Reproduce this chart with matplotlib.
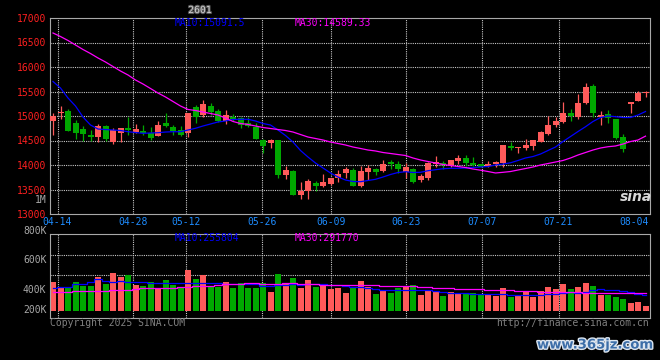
import numpy as np
import matplotlib.pyplot as plt
import matplotlib.patheffects as pe

# daily candles, 04-11 .. 08-05
opens = [14905, 15054, 15102, 14850, 14735, 14612, 14578, 14796, 14476, 14660,
         14748, 14673, 14680, 14646, 14599, 14864, 14782, 14714, 14660, 15190,
         15020, 15204, 15102, 14905, 14986, 14952, 14864, 14782, 14510, 14456,
         14510, 13796, 13877, 13388, 13469, 13639, 13571, 13612, 13728, 13843,
         13898, 13578, 13864, 13911, 13877, 14068, 14013, 13864, 13911, 13694,
         13728, 14020, 14047, 13979, 14081, 14149, 14034, 14020, 13986, 14020,
         14034, 14388, 14340, 14354, 14388, 14476, 14633, 14816, 14884, 15068,
         14986, 15272, 15612, 14986, 15041, 14939, 14578, 15238, 15313, 15469]
highs = [15054, 15204, 15136, 14918, 14796, 14714, 14837, 14816, 14748, 14748,
         14986, 14830, 14816, 14782, 14898, 15068, 14816, 14803, 15054, 15224,
         15326, 15258, 15143, 15122, 15034, 14973, 14973, 14864, 14524, 14524,
         14510, 13979, 13898, 13660, 13707, 13673, 13816, 13741, 13898, 13966,
         13932, 13986, 14000, 13945, 14102, 14102, 14081, 14047, 13932, 13816,
         14068, 14190, 14081, 14102, 14204, 14204, 14170, 14020, 14081, 14075,
         14408, 14476, 14374, 14530, 14510, 14694, 15000, 14986, 15279, 15143,
         15449, 15667, 15653, 15102, 15122, 14939, 14626, 15286, 15510, 15517]
lows = [14612, 14932, 14701, 14524, 14497, 14497, 14476, 14490, 14422, 14476,
        14612, 14646, 14612, 14510, 14599, 14782, 14612, 14599, 14564, 14850,
        14986, 15020, 14884, 14830, 14905, 14762, 14782, 14530, 14252, 14354,
        13741, 13714, 13388, 13306, 13299, 13469, 13544, 13592, 13660, 13741,
        13578, 13558, 13694, 13796, 13850, 13918, 13830, 13728, 13639, 13660,
        13694, 13966, 13918, 13966, 14020, 13986, 13986, 13966, 13966, 13960,
        13966, 14306, 14238, 14306, 14306, 14476, 14612, 14782, 14850, 14905,
        14932, 15245, 14973, 14816, 14864, 14524, 14272, 15068, 15313, 15381]
closes = [14999, 15082, 14701, 14646, 14632, 14578, 14796, 14530, 14714, 14748,
          14714, 14735, 14660, 14558, 14816, 14803, 14694, 14612, 15054, 14986,
          15245, 15075, 14905, 15020, 14932, 14816, 14796, 14530, 14394, 14510,
          13796, 13898, 13388, 13469, 13673, 13571, 13660, 13741, 13816, 13911,
          13578, 13877, 13932, 13864, 14020, 14020, 13918, 13966, 13660, 13775,
          14034, 14068, 14000, 14102, 14149, 14034, 14000, 13966, 14000, 14068,
          14408, 14354, 14360, 14408, 14510, 14680, 14816, 14898, 15068, 15000,
          15265, 15599, 15068, 15020, 14966, 14544, 14320, 15286, 15462, 15483]
ma10 = [15704, 15571, 15367, 15204, 14979, 14816, 14734, 14724, 14714, 14704,
        14679, 14663, 14647, 14653, 14659, 14673, 14679, 14679, 14714, 14749,
        14796, 14837, 14878, 14898, 14929, 14933, 14933, 14898, 14847, 14816,
        14714, 14602, 14469, 14296, 14163, 14041, 13939, 13837, 13755, 13694,
        13663, 13659, 13684, 13708, 13755, 13806, 13847, 13863, 13847, 13851,
        13883, 13904, 13924, 13933, 13933, 13939, 13949, 13959, 13969, 14000,
        14020, 14045, 14092, 14143, 14173, 14224, 14296, 14367, 14479, 14581,
        14683, 14781, 14888, 14969, 15000, 14986, 14969, 14969, 15020, 15091.5]
ma30 = [16694, 16622, 16541, 16449, 16357, 16275, 16184, 16102, 16010, 15918,
        15837, 15735, 15653, 15561, 15469, 15388, 15296, 15204, 15133, 15112,
        15081, 15051, 15020, 14959, 14888, 14847, 14827, 14796, 14765, 14745,
        14724, 14704, 14673, 14622, 14571, 14541, 14510, 14469, 14439, 14408,
        14367, 14337, 14306, 14286, 14255, 14235, 14214, 14194, 14143, 14102,
        14071, 14041, 14010, 13990, 13969, 13949, 13918, 13894, 13867, 13837,
        13851, 13867, 13898, 13928, 13959, 14000, 14030, 14061, 14092, 14143,
        14204, 14255, 14306, 14347, 14373, 14388, 14428, 14479, 14510, 14589.33]
# volume in thousands
volumes = [472, 392, 392, 472, 408, 402, 552, 434, 617, 552,
           579, 418, 402, 461, 349, 499, 418, 365, 660, 515,
           579, 392, 392, 472, 375, 445, 375, 375, 445, 311,
           595, 429, 536, 375, 499, 392, 418, 349, 375, 295,
           381, 483, 392, 274, 327, 295, 375, 402, 418, 257,
           338, 311, 247, 300, 295, 268, 284, 268, 257, 247,
           375, 231, 247, 300, 231, 322, 392, 354, 434, 354,
           392, 456, 408, 257, 257, 231, 193, 134, 150, 86]
vol_ma10 = [365, 381, 392, 429, 440, 472, 510, 488, 472, 483,
            461, 461, 461, 445, 445, 445, 451, 445, 445, 451,
            451, 445, 445, 440, 429, 429, 429, 429, 408, 408,
            418, 418, 429, 418, 429, 429, 429, 418, 418, 408,
            392, 386, 375, 349, 338, 338, 338, 338, 338, 338,
            333, 322, 300, 295, 295, 295, 279, 274, 268, 268,
            268, 257, 252, 252, 252, 257, 268, 279, 295, 300,
            295, 311, 333, 349, 343, 338, 322, 300, 279, 256]
vol_ma30 = [311, 311, 311, 316, 322, 322, 322, 322, 333, 338,
            343, 349, 365, 365, 370, 375, 375, 381, 386, 397,
            402, 408, 418, 429, 440, 440, 445, 445, 440, 440,
            440, 445, 451, 440, 434, 429, 424, 424, 418, 418,
            418, 418, 418, 413, 408, 402, 402, 402, 397, 386,
            381, 375, 370, 365, 354, 354, 354, 354, 343, 338,
            338, 333, 327, 322, 316, 311, 311, 311, 306, 300,
            300, 295, 290, 290, 290, 284, 284, 284, 284, 292]
date_labels = ['04-14', '04-28', '05-12', '05-26', '06-09', '06-23', '07-07', '07-21', '08-04']
price_ticks = [13000, 13500, 14000, 14500, 15000, 15500, 16000, 16500, 17000]
vol_labels = ['800K', '600K', '400K', '200K']

RED = '#ff5a5a'
GREEN = '#00a800'
GRID = '#c8c8c8'
EDGE = '#a8a8a8'
MONO = 'DejaVu Sans Mono'

x = np.arange(len(closes))
o = np.array(opens)
c = np.array(closes)
cols = [RED if cc >= oo else GREEN for oo, cc in zip(o, c)]

date_pos = [0.6, 10.7, 17.7, 27.9, 37.1, 47.1, 57.2, 67.4, 77.5]  # label positions (index units)

fig = plt.figure(figsize=(6.6, 3.6), dpi=100, facecolor='black')
ax = fig.add_axes([50 / 660, 1 - 214 / 360, 600 / 660, 196 / 360], facecolor='black')
axv = fig.add_axes([50 / 660, 1 - 318 / 360, 600 / 660, 84 / 360], facecolor='black')

for a in (ax, axv):
    a.set_xlim(-0.4, 79.6)
    for s in a.spines.values():
        s.set_color(EDGE)
        s.set_linewidth(0.8)
    a.tick_params(length=0)
    # vertical grid (no line at the last label)
    for p in date_pos[:-1]:
        a.axvline(p, color=GRID, lw=0.8, ls=(0, (1, 1)), zorder=1)

# price panel
ax.set_ylim(13000, 17000)
for v in price_ticks[1:-1]:
    ax.axhline(v, color=GRID, lw=0.8, ls=(0, (1, 1)), zorder=1)
ax.vlines(x, lows, highs, colors=cols, lw=0.9, zorder=2)
ax.bar(x, np.maximum(np.abs(c - o), 25), bottom=np.minimum(o, c), width=0.8, color=cols, zorder=3)
ax.plot(x, ma10, color='#0000ff', lw=0.9, zorder=4)
ax.plot(x, ma30, color='#ff00ff', lw=0.9, zorder=4)
ax.set_yticks(price_ticks)
ax.set_yticklabels([str(v) for v in price_ticks], color='#ff2020', fontsize=7, family=MONO)
ax.set_xticks(date_pos)
ax.set_xticklabels(date_labels, color='#1e8cff', fontsize=7, family=MONO)
ax.tick_params(axis='y', pad=3)
ax.tick_params(axis='x', pad=2)

# volume panel
axv.set_ylim(-113, 1239)
for f in (0.512, 0.75):
    axv.plot([0, 1], [f, f], transform=axv.transAxes, color=GRID, lw=0.8, ls=(0, (1, 1)), zorder=1)
axv.bar(x, volumes, width=0.8, color=cols, zorder=2)
axv.plot(x, vol_ma10, color='#0000ff', lw=0.9, drawstyle='steps-mid', zorder=3)
axv.plot(x, vol_ma30, color='#ff00ff', lw=0.9, drawstyle='steps-mid', zorder=3)
axv.set_xticks([])
axv.set_yticks([])
for lab, f in zip(vol_labels, [1.038, 0.685, 0.331, 0.093]):
    axv.text(-0.006, f, lab, transform=axv.transAxes, ha='right', va='center',
             color='#a8a8a8', fontsize=7, family=MONO)


def ftext(px, py, s, **kw):
    fig.text(px / 660, 1 - py / 360, s, family=MONO, fontsize=7, va='center', **kw)


ftext(200, 10, '2601', color='#d0d0d0', ha='center',
      path_effects=[pe.withStroke(linewidth=1.5, foreground='#555555')])
ftext(175, 23.5, 'MA10:15091.5', color='#0000ff')
ftext(295, 23.5, 'MA30:14589.33', color='#ff00ff')
ftext(175, 238, 'MA10:255804', color='#0000ff')
ftext(295, 238, 'MA30:291770', color='#ff00ff')
ftext(46.5, 200, '1M', color='#a8a8a8', ha='right')
ftext(50, 323.5, 'Copyright 2025 SINA.COM', color='#808080')
ftext(649, 323.5, 'http://finance.sina.com.cn', color='#808080', ha='right')

# watermarks
fig.text(636 / 660, 1 - 197 / 360, 'sina', color='#d8d8d8', fontsize=10, fontweight='bold',
         style='italic', ha='center', va='center')
fig.text(654 / 660, 1 - 345 / 360, 'www.365jz.com', color='#3c6ea8', fontsize=9.5,
         fontweight='bold', ha='right', va='center',
         path_effects=[pe.withStroke(linewidth=2, foreground='#dde6f0')])

fig.savefig('out.png', dpi=100, facecolor='black')
